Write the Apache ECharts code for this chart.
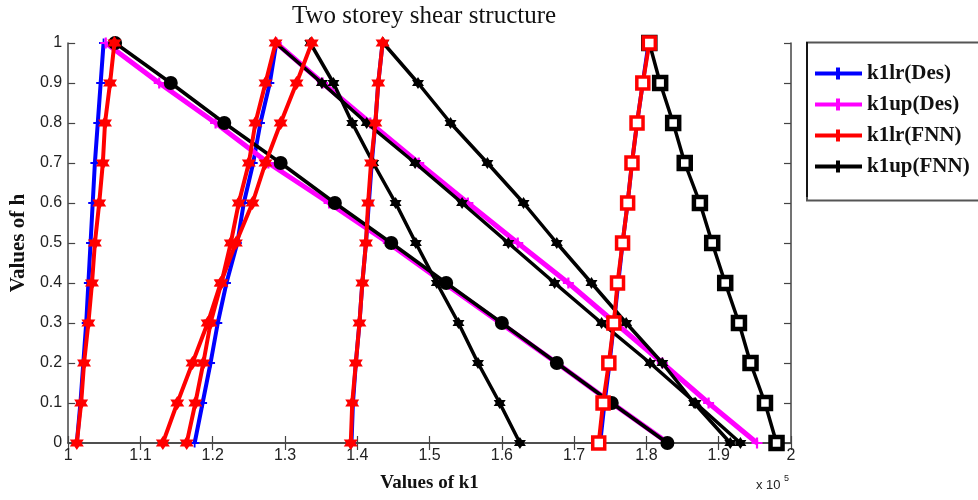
<!DOCTYPE html>
<html>
<head>
<meta charset="utf-8">
<script src="https://cdn.jsdelivr.net/npm/echarts@6/dist/echarts.min.js"></script>
<style>html,body{margin:0;padding:0;background:#fff;}#c{width:978px;height:500px;}</style>
</head>
<body>
<div id="c"></div>
<script>
// ---- data (x values in units of 1e5, one value per h level) ----
var hLevels = [0, 0.1, 0.2, 0.3, 0.4, 0.5, 0.6, 0.7, 0.8, 0.9, 1];
var xTicks = ['1','1.1','1.2','1.3','1.4','1.5','1.6','1.7','1.8','1.9','2'];
var seriesNames = ['k1lr(Des)', 'k1up(Des)', 'k1lr(FNN)', 'k1up(FNN)'];

// k1lr(Des)
var desLr1 = [1.012, 1.017, 1.021, 1.025, 1.028, 1.031, 1.034, 1.037, 1.041, 1.045, 1.049];
var desLr2 = [1.175, 1.186, 1.197, 1.207, 1.219, 1.234, 1.243, 1.256, 1.266, 1.279, 1.288];
var desLr3 = [1.392, 1.394, 1.398, 1.403, 1.407, 1.412, 1.416, 1.420, 1.425, 1.429, 1.435];
var desLr4 = [1.736, 1.742, 1.749, 1.755, 1.761, 1.767, 1.774, 1.780, 1.787, 1.795, 1.803];
// k1up(Des)
var desUp1 = [1.830, 1.752, 1.676, 1.598, 1.520, 1.443, 1.361, 1.277, 1.204, 1.126, 1.052];
var desUp2 = [1.953, 1.886, 1.822, 1.757, 1.692, 1.622, 1.553, 1.485, 1.418, 1.352, 1.288];
// k1lr(FNN)
var fnnLr1 = [1.012, 1.018, 1.022, 1.028, 1.033, 1.037, 1.043, 1.048, 1.051, 1.058, 1.064];
var fnnLr2 = [1.164, 1.176, 1.187, 1.197, 1.212, 1.225, 1.236, 1.250, 1.259, 1.273, 1.287];
var fnnLr3 = [1.131, 1.151, 1.172, 1.193, 1.211, 1.232, 1.255, 1.273, 1.294, 1.316, 1.337];
var fnnLr4 = [1.391, 1.393, 1.398, 1.403, 1.407, 1.412, 1.415, 1.419, 1.425, 1.429, 1.435];
var fnnLr5 = [1.734, 1.740, 1.748, 1.755, 1.760, 1.767, 1.774, 1.780, 1.787, 1.795, 1.804];
// k1up(FNN)
var fnnUp1 = [1.829, 1.752, 1.676, 1.600, 1.523, 1.447, 1.369, 1.294, 1.216, 1.142, 1.065];
var fnnUp2 = [1.930, 1.868, 1.805, 1.738, 1.673, 1.609, 1.545, 1.480, 1.413, 1.351, 1.287];
var fnnUp3 = [1.625, 1.597, 1.567, 1.540, 1.510, 1.481, 1.453, 1.422, 1.393, 1.367, 1.335];
var fnnUp4 = [1.916, 1.866, 1.822, 1.772, 1.724, 1.676, 1.630, 1.580, 1.529, 1.484, 1.436];
var fnnUp5 = [1.980, 1.964, 1.944, 1.928, 1.909, 1.891, 1.874, 1.853, 1.837, 1.819, 1.804];

// ---- styling ----
var plusPath = 'path://M4,0h2v4h4v2h-4v4h-2v-4h-4v-2h4z';
var hexPath = 'path://M0,-10L2.9,-5L8.66,-5L5.8,0L8.66,5L2.9,5L0,10L-2.9,5L-8.66,5L-5.8,0L-8.66,-5L-2.9,-5Z';
var legendIcon = 'path://M0,4h21v-4h4v4h22v4h-22v4h-4v-4h-21z';
var C_BLUE = '#0000ff', C_MAG = '#ff00ff', C_RED = '#ff0000', C_BLK = '#000000';

function mk(name, xs, color, symbol, size, width, z, empty) {
  return {
    type: 'line', name: name,
    data: xs.map(function (x, i) { return [x, hLevels[i]]; }),
    symbol: symbol, symbolSize: size, showSymbol: true,
    lineStyle: { color: color, width: width },
    itemStyle: empty ? { color: '#fff', borderColor: color, borderWidth: empty } : { color: color, borderColor: color, borderWidth: 0 },
    z: z, animation: false, silent: true, clip: false
  };
}

var series = [
  mk(seriesNames[0], desLr1, C_BLUE, plusPath, 9, 4, 2),
  mk(seriesNames[0], desLr2, C_BLUE, plusPath, 9, 4, 2),
  mk(seriesNames[0], desLr3, C_BLUE, plusPath, 9, 4, 2),
  mk(seriesNames[0], desLr4, C_BLUE, plusPath, 9, 4, 2),
  mk(seriesNames[1], desUp1, C_MAG, plusPath, 11, 5, 3),
  mk(seriesNames[1], desUp2, C_MAG, plusPath, 11, 5, 3),
  mk(seriesNames[3], fnnUp1, C_BLK, 'circle', 14, 3.5, 4),
  mk(seriesNames[3], fnnUp2, C_BLK, hexPath, 12, 3.5, 4),
  mk(seriesNames[3], fnnUp3, C_BLK, hexPath, 12, 3.5, 4),
  mk(seriesNames[3], fnnUp4, C_BLK, hexPath, 12, 3.5, 4),
  mk(seriesNames[3], fnnUp5, C_BLK, 'rect', 12, 3.5, 4, 4.5),
  mk(seriesNames[2], fnnLr1, C_RED, hexPath, 14, 4, 5),
  mk(seriesNames[2], fnnLr2, C_RED, hexPath, 14, 4, 5),
  mk(seriesNames[2], fnnLr3, C_RED, hexPath, 14, 4, 5),
  mk(seriesNames[2], fnnLr4, C_RED, hexPath, 14, 4, 5),
  mk(seriesNames[2], fnnLr5, C_RED, 'rect', 12, 4, 5, 3.5)
];
var legendColors = {};
legendColors[seriesNames[0]] = C_BLUE; legendColors[seriesNames[1]] = C_MAG;
legendColors[seriesNames[2]] = C_RED; legendColors[seriesNames[3]] = C_BLK;

var axisLineStyle = { color: '#444', width: 1.5 };
var tickStyle = { color: '#444', width: 1.2 };
var labelFont = { color: '#222', fontFamily: 'Liberation Sans, Arial, sans-serif', fontSize: 16 };
var nameFont = { color: '#111', fontFamily: 'Liberation Serif, Times New Roman, serif', fontWeight: 'bold', fontSize: 19 };

var chart = echarts.init(document.getElementById('c'), null, { renderer: 'canvas' });
chart.setOption({
  animation: false,
  backgroundColor: '#fff',
  grid: { left: 63, right: 187, top: 43, bottom: 57, containLabel: false },
  xAxis: [
    { type: 'value', min: 1, max: 2, interval: 0.1, position: 'bottom',
      axisLine: { show: true, lineStyle: axisLineStyle },
      axisTick: { show: true, inside: true, length: 7, lineStyle: tickStyle },
      axisLabel: Object.assign({ margin: 5, formatter: function (v) { return xTicks[Math.round((v - 1) * 10)]; } }, labelFont),
      splitLine: { show: false },
      name: 'Values of k1', nameLocation: 'middle', nameGap: 31, nameTextStyle: nameFont },
    { type: 'value', min: 1, max: 2, interval: 0.1, position: 'top',
      axisLine: { show: true, lineStyle: axisLineStyle },
      axisTick: { show: true, inside: true, length: 7, lineStyle: tickStyle },
      axisLabel: { show: false }, splitLine: { show: false } }
  ],
  yAxis: [
    { type: 'value', min: 0, max: 1, interval: 0.1, position: 'left',
      axisLine: { show: true, lineStyle: axisLineStyle },
      axisTick: { show: true, inside: true, length: 7, lineStyle: tickStyle },
      axisLabel: Object.assign({ margin: 6 }, labelFont),
      splitLine: { show: false },
      name: 'Values of h', nameLocation: 'middle', nameGap: 33, nameRotate: 90,
      nameTextStyle: Object.assign({}, nameFont, { fontSize: 21 }) },
    { type: 'value', min: 0, max: 1, interval: 0.1, position: 'right',
      axisLine: { show: true, lineStyle: axisLineStyle },
      axisTick: { show: true, inside: true, length: 7, lineStyle: tickStyle },
      axisLabel: { show: false }, splitLine: { show: false } }
  ],
  legend: {
    orient: 'vertical', left: 815, top: 63, itemGap: 10, padding: 0,
    itemWidth: 47, itemHeight: 12, selectedMode: false,
    textStyle: { color: '#111', fontFamily: 'Liberation Serif, Times New Roman, serif', fontWeight: 'bold', fontSize: 21 },
    data: seriesNames.map(function (n) { return { name: n, icon: legendIcon, itemStyle: { color: legendColors[n] } }; }),
    z: 10
  },
  graphic: [
    { type: 'rect', z: 1, shape: { x: 807, y: 42.5, width: 200, height: 158 },
      style: { fill: '#fff', stroke: '#555', lineWidth: 2 } },
    { type: 'line', z: 2, shape: { x1: 807, y1: 42, x2: 807, y2: 197 }, style: { stroke: '#000', lineWidth: 1.5 } },
    { type: 'text', left: 292, top: 4, style: { text: 'Two storey shear structure', fontFamily: 'Liberation Serif, Times New Roman, serif', fontSize: 25, fill: '#111' } },
    { type: 'text', left: 756, top: 479, style: { text: 'x 10', fontFamily: 'Liberation Sans, Arial, sans-serif', fontSize: 13, fill: '#222' } },
    { type: 'text', left: 784, top: 474, style: { text: '5', fontFamily: 'Liberation Sans, Arial, sans-serif', fontSize: 9, fill: '#222' } }
  ],
  series: series
});
</script>
</body>
</html>
